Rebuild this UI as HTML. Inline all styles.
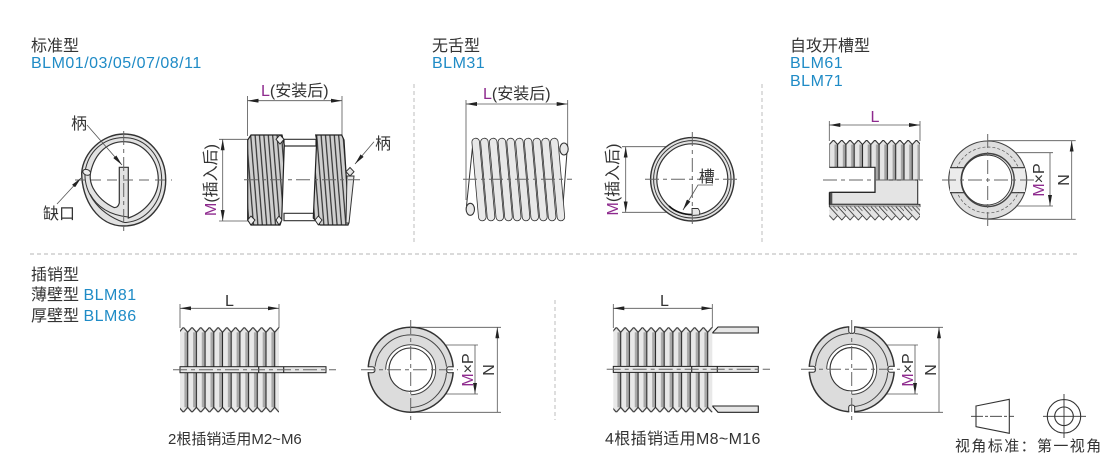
<!DOCTYPE html>
<html><head><meta charset="utf-8"><style>
html,body{margin:0;padding:0;background:#fff}
svg{display:block}
text{font-family:"Liberation Sans","Noto Sans CJK SC",sans-serif;fill:#333;font-size:16px}
.b{fill:#1f8bc6;letter-spacing:.5px}
.m{fill:#8e2a8e}
.o{fill:#e2e2e2;stroke:#333;stroke-width:1.4}
.t{fill:none;stroke:#333;stroke-width:1}
.d{fill:none;stroke:#555;stroke-width:.8}
.c{fill:none;stroke:#666;stroke-width:1;stroke-dasharray:14 4 4 4}
.s{fill:none;stroke:#b5b5b5;stroke-width:.9;stroke-dasharray:4 3}
</style></head><body>
<svg width="1110" height="460" viewBox="0 0 1110 460" xmlns="http://www.w3.org/2000/svg">
<defs>
<marker id="a" viewBox="0 0 11 4" refX="11" refY="2" markerWidth="11" markerHeight="4" orient="auto-start-reverse" markerUnits="userSpaceOnUse"><path d="M0 0L11 2L0 4Z" fill="#222"/></marker>
<pattern id="rib4" x="179" y="327.3" width="8.7" height="85" patternUnits="userSpaceOnUse">
<path d="M0 5L4.35 0L8.7 5V80L4.35 85L0 80Z" fill="#e8e8e8"/><rect x="5.4" y="5" width="3.3" height="75" fill="#a8a8a8"/><path d="M0 5L4.35 0L8.7 5M0 80L4.35 85L8.7 80M0 5V80M8.7 5V80" fill="none" stroke="#2a2a2a" stroke-width="1.1"/></pattern>
<pattern id="rib5" x="612" y="327.3" width="8.7" height="85" patternUnits="userSpaceOnUse">
<path d="M0 5L4.35 0L8.7 5V80L4.35 85L0 80Z" fill="#e8e8e8"/><rect x="5.4" y="5" width="3.3" height="75" fill="#a8a8a8"/><path d="M0 5L4.35 0L8.7 5M0 80L4.35 85L8.7 80M0 5V80M8.7 5V80" fill="none" stroke="#2a2a2a" stroke-width="1.1"/></pattern>
<pattern id="rib3" x="829.3" y="140" width="8.3" height="44" patternUnits="userSpaceOnUse">
<path d="M0 4.5L4.15 0L8.3 4.5V44H0Z" fill="#e4e4e4"/><rect x="5.2" y="4.5" width="3.1" height="40" fill="#a2a2a2"/><path d="M0 4.5L4.15 0L8.3 4.5M0 4.5V44M8.3 4.5V44" fill="none" stroke="#2a2a2a" stroke-width="1.1"/></pattern>
<pattern id="rib3b" x="829.3" y="206.5" width="8.3" height="14" patternUnits="userSpaceOnUse">
<path d="M0 0H8.3V9L4.2 13.5L0 9Z" fill="#e4e4e4"/><path d="M0 0L8.3 9L4.2 13.5L0 9" fill="none" stroke="#333" stroke-width=".9"/><path d="M4 0L8.3 4.5" stroke="#555" stroke-width=".8"/></pattern>
<pattern id="dg" x="0" y="0" width="4.4" height="90" patternUnits="userSpaceOnUse" patternTransform="skewX(4.6)">
<rect width="4.4" height="90" fill="#cfcfcf"/><path d="M2.2 0V90" stroke="#222" stroke-width="1.1"/></pattern>
</defs>

<text x="31" y="51">标准型</text><text x="31" y="68" class="b">BLM01/03/05/07/08/11</text>
<text x="432" y="51">无舌型</text><text x="432" y="68" class="b">BLM31</text>
<text x="790" y="51">自攻开槽型</text><text x="790" y="68" class="b">BLM61</text><text x="790" y="86" class="b">BLM71</text>
<text x="31" y="280">插销型</text>
<text x="31" y="300">薄壁型 <tspan class="b">BLM81</tspan></text>
<text x="31" y="321">厚壁型 <tspan class="b">BLM86</tspan></text>
<text x="168" y="444" style="font-size:15px">2根插销适用M2~M6</text>
<text x="605" y="444" style="letter-spacing:.35px">4根插销适用M8~M16</text>

<path class="s" d="M414 84V245M762 84V245M30 254H1080M555 300V420"/>

<!-- panel 1 end view -->
<path class="o" d="M123.7 134C148 134 165.7 155 165.7 180C165.7 205 148 226 123.7 226C98 226 81.7 200 81.7 173C83 152 103 134 123.7 134Z"/>
<path d="M128.3 167.3H119.3V203Q118 208 114 207.5Q100 201 93 188Q89 180 90.7 172C95 153 108 141.7 123.7 141.7C143 141.7 158.3 159 158.3 180C158.3 196 146 212 128.3 218Z" fill="#fff" stroke="#333" stroke-width="1.2"/>
<path class="t" d="M124 222.5C146 222 161.7 202 161.7 180C161.7 155 145 137.6 123.7 137.6C103 137.6 88 152 85 172C84 190 95 212 124 222.5"/>
<path class="t" d="M90 194C97 207 110 215 128 217"/>
<ellipse cx="86.7" cy="172.3" rx="4" ry="2.8" fill="#eee" stroke="#333" transform="rotate(20 86.7 172.3)"/>
<path class="c" d="M75 180H172" style="stroke-dasharray:10 6"/><path class="c" d="M123.7 131V232"/>
<path class="d" d="M87 125L122 165" marker-end="url(#a)"/><path class="d" d="M57 204L81 178" marker-end="url(#a)"/>
<text x="71" y="129">柄</text><text x="43" y="219">缺口</text>

<!-- panel 1 side view -->
<path class="d" d="M247.5 96V136M342 96V136"/><path class="d" d="M247.5 100.7H342" marker-start="url(#a)" marker-end="url(#a)"/>
<text x="261" y="96"><tspan class="m">L</tspan>(安装后)</text>
<path class="d" d="M219 139.3H250M219 221H250"/><path class="d" d="M222.7 139.3V221" marker-start="url(#a)" marker-end="url(#a)"/>
<text transform="translate(216,180) rotate(-90)" text-anchor="middle"><tspan class="m">M</tspan>(插入后)</text>
<path d="M284 139.3H316V146H284ZM284 213.3H316V220.7H284Z" fill="#fff" stroke="#333" stroke-width="1.2"/>
<path d="M247.7 140L251 135H282L284.3 145L281.7 220L280 225H251L247.7 220Z" fill="url(#dg)" stroke="#222" stroke-width="1.2"/>
<path d="M316.7 140L315.7 135H341.7L344 140L349 222L348 225H320L313.3 218Z" fill="url(#dg)" stroke="#222" stroke-width="1.2"/>
<path d="M276 139.3L280 135L284 139.3L280 144ZM247.7 220L251 216L255 220L251 225ZM276 220L279 216L282 220L279 225ZM315 220L318.3 216L322 220L318.3 225Z" fill="#eee" stroke="#222" stroke-width=".9"/>
<path d="M347 176L354 176L349 223L346 223Z" fill="#e6e6e6" stroke="#333"/>
<path d="M350 167.5L354 171.7L350 176L346 171.7Z" fill="#e6e6e6" stroke="#333"/>
<path class="c" d="M244 179.7H360"/>
<path class="d" d="M374 141.7L355 164" marker-end="url(#a)"/><text x="375" y="149">柄</text>

<!-- panel 2 side view -->
<path class="d" d="M466 100V200M567.7 100V146"/><path class="d" d="M466 104H567.7" marker-start="url(#a)" marker-end="url(#a)"/>
<text x="483" y="99"><tspan class="m">L</tspan>(安装后)</text>
<path class="t" d="M466.5 206L473 142M562 218L567 152"/>
<g stroke-linecap="round">
<g stroke="#333" stroke-width="8.4"><path d="M475.7 142L482.3 217M484.4 142L491 217M493.2 142L499.8 217M501.9 142L508.5 217M510.6 142L517.2 217M519.4 142L526 217M528.1 142L534.7 217M536.8 142L543.4 217M545.5 142L552.1 217M554.3 142L560.9 217"/></g>
<g stroke="#e8e8e8" stroke-width="6.8"><path d="M475.7 142L482.3 217M484.4 142L491 217M493.2 142L499.8 217M501.9 142L508.5 217M510.6 142L517.2 217M519.4 142L526 217M528.1 142L534.7 217M536.8 142L543.4 217M545.5 142L552.1 217M554.3 142L560.9 217"/></g>
</g>
<ellipse cx="470.3" cy="209.3" rx="4.2" ry="6" fill="#e8e8e8" stroke="#333" stroke-width="1.1"/>
<ellipse cx="564" cy="149" rx="4.2" ry="6" fill="#e8e8e8" stroke="#333" stroke-width="1.1"/>
<path class="c" d="M463 179.3H572"/>
<!-- panel 2 end view -->
<path class="d" d="M622 146.7H690M622 212.3H690"/><path class="d" d="M625.7 146.7V212.3" marker-start="url(#a)" marker-end="url(#a)"/>
<text transform="translate(618,179.5) rotate(-90)" text-anchor="middle"><tspan class="m">M</tspan>(插入后)</text>
<circle cx="692.3" cy="179.3" r="41.7" class="o"/><circle cx="692.3" cy="179.3" r="38.7" class="t"/>
<circle cx="692.3" cy="179.3" r="35.5" fill="#fff" stroke="#333" stroke-width="1.2"/>
<path d="M669 206C675 212 684 214.5 692 214.5" fill="none" stroke="#111" stroke-width="1.6"/>
<path d="M692 208.5H698Q701 212 699 215L692 215.5Z" fill="#e8e8e8" stroke="#333" stroke-width=".9"/>
<path class="c" d="M645 179.3H741"/><path class="c" d="M692.3 132V228"/>
<path class="d" d="M713 185H698L683 210" marker-end="url(#a)"/><text x="698.7" y="182">槽</text>

<!-- panel 3 side view -->
<path class="d" d="M829.3 121V141M920 121V141"/><path class="d" d="M829.3 125H920" marker-start="url(#a)" marker-end="url(#a)"/>
<text x="870.5" y="122" class="m">L</text>
<rect x="829.3" y="140" width="90.7" height="27.3" fill="url(#rib3)"/>
<rect x="875" y="167" width="45" height="13" fill="url(#rib3)"/>
<path d="M875 180H917.7V204.3H831.7V192.3H875Z" fill="#e4e4e4" stroke="#333" stroke-width="1.1"/>
<path d="M829.3 167.3H875V192.3H829.3" fill="none" stroke="#222" stroke-width="1.2"/>
<path d="M829.8 192.3V204.5" stroke="#222" stroke-width="2"/>
<rect x="829.3" y="204.3" width="90.7" height="2.4" fill="#aaa" stroke="#222" stroke-width=".8"/>
<rect x="829.3" y="206.5" width="90.7" height="14" fill="url(#rib3b)"/>
<path class="c" d="M823 180H927"/>
<!-- panel 3 end view -->
<path class="d" d="M988 140.7H1075.7M988 219.3H1075.7M1000 152.7H1053M1000 206H1053"/>
<path class="d" d="M1071.7 140.7V219.3M1050 152.7V206" marker-start="url(#a)" marker-end="url(#a)"/>
<circle cx="987.7" cy="180" r="39" fill="#dedede" stroke="#444" stroke-width="1.1"/>
<circle cx="987.7" cy="180" r="33" fill="none" stroke="#555" stroke-width=".7" stroke-dasharray="3 2"/>
<path d="M950 168H966V192H950ZM1009 168H1025V192H1009Z" fill="#ececec" stroke="none"/>
<path d="M950 167.7H966M1009 167.7H1025M950 192.7H966M1009 192.7H1025" stroke="#333" stroke-width="1.1"/>
<circle cx="987.7" cy="180" r="26.5" fill="#e6e6e6" stroke="#444" stroke-width="1.4"/>
<circle cx="986.7" cy="180" r="25" fill="#fff" stroke="#333" stroke-width=".9"/>
<path class="c" d="M942 180H1035M987.7 134V226"/>
<text transform="translate(1044,180) rotate(-90)" text-anchor="middle"><tspan class="m">M</tspan>×P</text>
<text transform="translate(1069,180) rotate(-90)" text-anchor="middle">N</text>

<!-- panel 4 side view -->
<path class="d" d="M180 304V328M279 304V328"/><path class="d" d="M180 308.3H279" marker-start="url(#a)" marker-end="url(#a)"/>
<text x="225" y="306">L</text>
<rect x="180" y="327.3" width="99" height="85" fill="url(#rib4)"/>
<rect x="180" y="366.7" width="146" height="6" fill="#e6e6e6" stroke="#222"/>
<path d="M258.7 366.7V372.7M283.7 366.7V372.7" stroke="#222" stroke-width="1.1"/>
<path class="c" d="M173 369.7H336"/>
<!-- panel 4 end view -->
<path class="d" d="M411 327.3H501M411 412.3H501M411 345H478M411 394H478"/>
<path class="d" d="M497.3 327.3V412.3M475 345V394" marker-start="url(#a)" marker-end="url(#a)"/>
<circle cx="410.7" cy="369.7" r="42.5" fill="#dcdcdc" stroke="#333" stroke-width="1.5"/>
<path d="M375 366.7A36 36 0 0 1 446.5 366.7" fill="none" stroke="#444" stroke-width="1"/>
<path d="M411 407.5A37.5 37.5 0 0 0 446.5 372.7" fill="none" stroke="#444" stroke-width="1"/>
<rect x="366" y="367.3" width="7" height="4.8" fill="#fff"/><rect x="448" y="367.3" width="7.5" height="4.8" fill="#fff"/>
<path d="M368 366.7H372Q375 366.7 375 369.7Q375 372.7 372 372.7H368" fill="none" stroke="#333"/>
<path d="M453.4 366.7H449Q446.5 366.7 446.5 369.7Q446.5 372.7 449 372.7H453.4" fill="none" stroke="#333"/>
<path d="M385.7 369.7A25 25 0 1 1 410.7 394.7Z" fill="#fff" stroke="none"/>
<path d="M385.7 369.7A25 25 0 1 1 410.7 394.7" fill="none" stroke="#444"/>
<circle cx="410.7" cy="369.7" r="21.7" fill="#fff" stroke="#333" stroke-width="1.1"/>
<path class="c" d="M361 369.7H458M410.7 320V420"/>
<text transform="translate(473,370) rotate(-90)" text-anchor="middle"><tspan class="m">M</tspan>×P</text>
<text transform="translate(494,370) rotate(-90)" text-anchor="middle">N</text>

<!-- panel 5 side view -->
<path class="d" d="M613.3 304V328M712.3 304V328"/><path class="d" d="M613.3 308.3H712.3" marker-start="url(#a)" marker-end="url(#a)"/>
<text x="660" y="306">L</text>
<path d="M712.3 333L718 327H758.3V333H712.3ZM712.3 406L718 412.3H758.3V406H712.3Z" fill="#e6e6e6" stroke="#222" stroke-width="1.1"/>
<rect x="613.3" y="327.3" width="99" height="85" fill="url(#rib5)"/>
<rect x="613.3" y="366.4" width="145" height="6" fill="#e6e6e6" stroke="#222"/>
<path d="M691.7 366.4V372.4M717.3 366.4V372.4" stroke="#222" stroke-width="1.1"/>
<path class="c" d="M606.7 369.3H770"/>
<!-- panel 5 end view -->
<path class="d" d="M852 327.3H943M852 412.3H943M852 345H918M852 394H918"/>
<path class="d" d="M939 327.3V412.3M915 345V394" marker-start="url(#a)" marker-end="url(#a)"/>
<circle cx="851.7" cy="369.3" r="42.5" fill="#dcdcdc" stroke="#333" stroke-width="1.5"/>
<path d="M815.5 366.3A36 36 0 0 1 848.7 333.5M854.7 333.5A36 36 0 0 1 887.8 366.3" fill="none" stroke="#444"/>
<path d="M854.7 406.5A37.5 37.5 0 0 0 887.8 372.3" fill="none" stroke="#444"/>
<rect x="807" y="366.9" width="7" height="4.8" fill="#fff"/><rect x="889" y="366.9" width="7.5" height="4.8" fill="#fff"/>
<rect x="849.3" y="325.5" width="4.8" height="7" fill="#fff"/><rect x="849.3" y="406" width="4.8" height="7.5" fill="#fff"/>
<path d="M809 366.3H813Q815.5 366.3 815.5 369.3Q815.5 372.3 813 372.3H809" fill="none" stroke="#333"/>
<path d="M894.4 366.3H890.5Q887.8 366.3 887.8 369.3Q887.8 372.3 890.5 372.3H894.4" fill="none" stroke="#333"/>
<path d="M848.7 327V331Q848.7 333.5 851.7 333.5Q854.7 333.5 854.7 331V327" fill="none" stroke="#333"/>
<path d="M848.7 411.6V407.5Q848.7 405 851.7 405Q854.7 405 854.7 407.5V411.6" fill="none" stroke="#333"/>
<path d="M826.7 369.3A25 25 0 1 1 851.7 394.3Z" fill="#fff" stroke="none"/>
<path d="M826.7 369.3A25 25 0 1 1 851.7 394.3" fill="none" stroke="#444"/>
<circle cx="851.7" cy="369.3" r="21.7" fill="#fff" stroke="#333" stroke-width="1.1"/>
<path class="c" d="M801 369.3H900M851.7 320V420"/>
<text transform="translate(913,370) rotate(-90)" text-anchor="middle"><tspan class="m">M</tspan>×P</text>
<text transform="translate(936,370) rotate(-90)" text-anchor="middle">N</text>

<!-- view symbol -->
<path d="M976 406L1009.3 399.3V433.3L976 426.7Z" fill="none" stroke="#333" stroke-width="1.1"/>
<path d="M971 416.3H1014" fill="none" stroke="#333" stroke-width=".9" stroke-dasharray="12 2 3 2"/>
<circle cx="1064" cy="416.3" r="16.7" fill="none" stroke="#333" stroke-width="1.1"/><circle cx="1064" cy="416.3" r="9.3" fill="none" stroke="#333" stroke-width="1.1"/>
<path d="M1043 416.3H1086M1064 394V438" stroke="#333" stroke-width=".9"/>
<text x="955" y="451" style="font-size:15px;letter-spacing:1.4px">视角标准：第一视角</text>
</svg>
</body></html>
